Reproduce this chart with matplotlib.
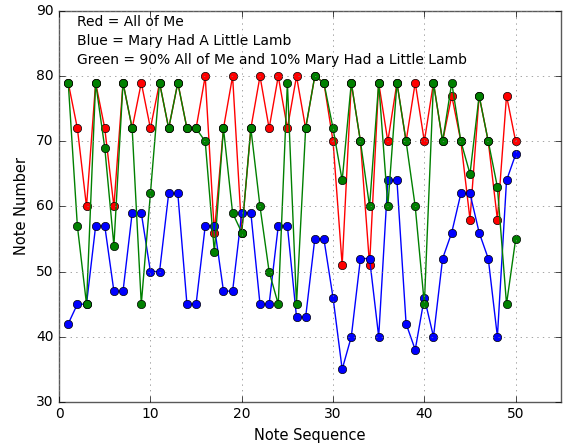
import matplotlib
matplotlib.use("Agg")
from matplotlib import pyplot as plt

plt.style.use("classic")
plt.rcParams["font.size"] = 10

seq = list(range(1, 51))

# Red = All of Me
red = [79, 72, 60, 79, 72, 60, 79, 72, 79, 72,
       79, 72, 79, 72, 72, 80, 56, 72, 80, 56,
       72, 80, 72, 80, 72, 80, 72, 80, 79, 70,
       51, 79, 70, 51, 79, 70, 79, 70, 79, 70,
       79, 70, 77, 70, 58, 77, 70, 58, 77, 70]

# Blue = Mary Had A Little Lamb
blue = [42, 45, 45, 57, 57, 47, 47, 59, 59, 50,
        50, 62, 62, 45, 45, 57, 57, 47, 47, 59,
        59, 45, 45, 57, 57, 43, 43, 55, 55, 46,
        35, 40, 52, 52, 40, 64, 64, 42, 38, 46,
        40, 52, 56, 62, 62, 56, 52, 40, 64, 68]

# Green = 90/10 mix
green = [79, 57, 45, 79, 69, 54, 79, 72, 45, 62,
         79, 72, 79, 72, 72, 70, 53, 72, 59, 56,
         72, 60, 50, 45, 79, 45, 72, 80, 79, 72,
         64, 79, 70, 60, 79, 60, 79, 70, 60, 45,
         79, 70, 79, 70, 65, 77, 70, 63, 45, 55]

fig = plt.figure(figsize=(5.63, 4.45), dpi=100, facecolor="white")
ax = fig.add_axes([0.105, 0.097, 0.892, 0.878])

ax.plot(seq, red, "r-o", markersize=6, linewidth=1)
ax.plot(seq, blue, "b-o", markersize=6, linewidth=1)
ax.plot(seq, green, "g-o", markersize=6, linewidth=1)

ax.set_xlim(0, 55)
ax.set_ylim(30, 90)
ax.grid(True, color="0.5")
for s in ax.spines.values():
    s.set_color("0.35")
ax.set_xlabel("Note Sequence", fontsize=10.5)
ax.set_ylabel("Note Number", fontsize=10.5)

ax.text(0.035, 0.99, "Red = All of Me\nBlue = Mary Had A Little Lamb\n"
        "Green = 90% All of Me and 10% Mary Had a Little Lamb",
        transform=ax.transAxes, va="top", ha="left", fontsize=10, linespacing=1.45)

fig.savefig("out.png", dpi=100, facecolor="white")
